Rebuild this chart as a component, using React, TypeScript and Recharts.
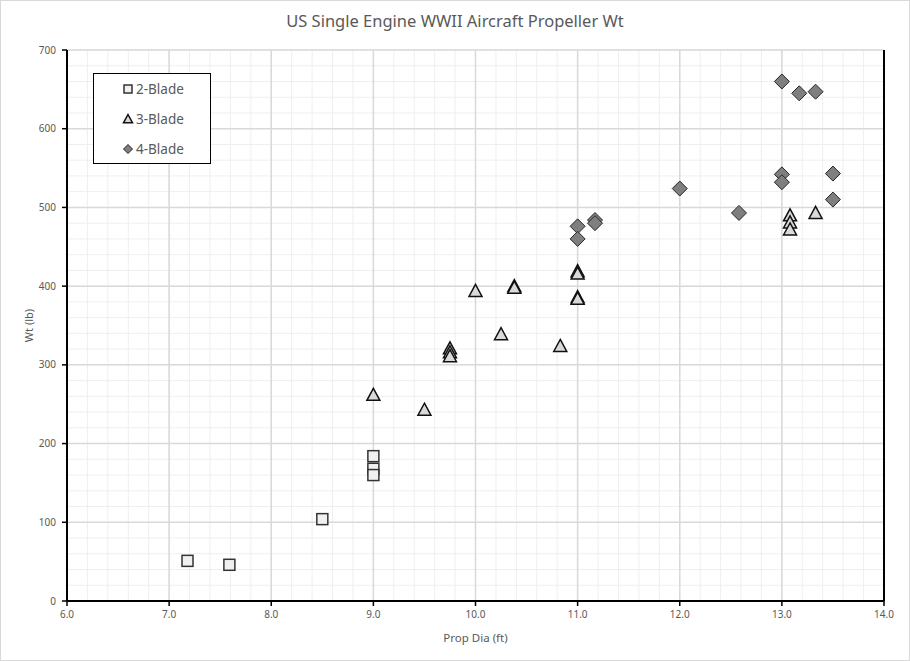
import { ScatterChart, Scatter, XAxis, YAxis, CartesianGrid, Legend, ReferenceLine } from 'recharts';

interface Pt {
    x: number;
    y: number;
}

// prop diameter (ft) vs propeller weight (lb)
const twoBlade: Pt[] = [
    { x: 7.18, y: 51 },
    { x: 7.59, y: 46 },
    { x: 8.5, y: 104 },
    { x: 9.0, y: 184 },
    { x: 9.0, y: 168 },
    { x: 9.0, y: 160 },
];

const threeBlade: Pt[] = [
    { x: 9.0, y: 262 },
    { x: 9.5, y: 243 },
    { x: 9.75, y: 321 },
    { x: 9.75, y: 316 },
    { x: 9.75, y: 311 },
    { x: 10.0, y: 394 },
    { x: 10.25, y: 339 },
    { x: 10.38, y: 400 },
    { x: 10.38, y: 398 },
    { x: 10.83, y: 324 },
    { x: 11.0, y: 419 },
    { x: 11.0, y: 416 },
    { x: 11.0, y: 386 },
    { x: 11.0, y: 384 },
    { x: 13.08, y: 490 },
    { x: 13.08, y: 481 },
    { x: 13.08, y: 472 },
    { x: 13.33, y: 493 },
];

const fourBlade: Pt[] = [
    { x: 11.0, y: 476 },
    { x: 11.0, y: 460 },
    { x: 11.17, y: 484 },
    { x: 11.17, y: 480 },
    { x: 12.0, y: 524 },
    { x: 12.58, y: 493 },
    { x: 13.0, y: 660 },
    { x: 13.17, y: 645 },
    { x: 13.33, y: 647 },
    { x: 13.0, y: 542 },
    { x: 13.0, y: 532 },
    { x: 13.5, y: 543 },
    { x: 13.5, y: 510 },
];

const xTicks = [6, 7, 8, 9, 10, 11, 12, 13, 14];
const yTicks = [0, 100, 200, 300, 400, 500, 600, 700];
// minor grid every 0.2 ft / 20 lb
const xMinor = Array.from({ length: 41 }, (_, i) => 6 + i * 0.2);
const yMinor = Array.from({ length: 36 }, (_, i) => i * 20);

const FONT = '"Noto Sans", Arial, sans-serif';
const GREY_TEXT = '#595959';

const Square = ({ cx, cy, s = 5.5 }: any) => (
    <rect x={cx - s} y={cy - s} width={s * 2} height={s * 2} fill="#f0f0f0" stroke="#333" strokeWidth={1.5} />
);

const Triangle = ({ cx, cy, s = 6.5 }: any) => (
    <polygon
        points={`${cx},${cy - s} ${cx + s},${cy + s * 0.85} ${cx - s},${cy + s * 0.85}`}
        fill="#d9d9d9"
        stroke="#111"
        strokeWidth={1.5}
        strokeLinejoin="miter"
    />
);

const Diamond = ({ cx, cy, s = 7.5 }: any) => (
    <polygon
        points={`${cx},${cy - s} ${cx + s},${cy} ${cx},${cy + s} ${cx - s},${cy}`}
        fill="#7f7f7f"
        stroke="#262626"
        strokeWidth={1}
    />
);

const legendItems = [
    { name: '2-Blade', shape: Square, s: 4 },
    { name: '3-Blade', shape: Triangle, s: 4.5 },
    { name: '4-Blade', shape: Diamond, s: 4.5 },
];

function LegendBox() {
    return (
        <div
            style={{
                width: 118,
                height: 91,
                boxSizing: 'border-box',
                border: '1px solid #000',
                background: '#fff',
                fontFamily: FONT,
                fontSize: 13.5,
                color: GREY_TEXT,
            }}
        >
            {legendItems.map((it) => {
                const Shape = it.shape;
                return (
                    <div key={it.name} style={{ height: 30, display: 'flex', alignItems: 'center' }}>
                        <svg width={12} height={12} style={{ marginLeft: 28 }}>
                            <Shape cx={6} cy={6} s={it.s} />
                        </svg>
                        <span style={{ marginLeft: 2 }}>{it.name}</span>
                    </div>
                );
            })}
        </div>
    );
}

const YTitle = ({ viewBox }: any) => {
    const x = viewBox.x + 1;
    const y = viewBox.y + viewBox.height / 2;
    return (
        <text x={x} y={y} transform={`rotate(-90, ${x}, ${y})`} textAnchor="middle" dominantBaseline="central" fontFamily={FONT} fontSize={11} fill={GREY_TEXT}>
            Wt (lb)
        </text>
    );
};

const XTitle = ({ viewBox }: any) => (
    <text x={viewBox.x + viewBox.width / 2} y={viewBox.y + 36} textAnchor="middle" dominantBaseline="central" fontFamily={FONT} fontSize={11.5} fill={GREY_TEXT}>
        Prop Dia (ft)
    </text>
);

export default function App() {
    const tickStyle = { fontSize: 10, fill: GREY_TEXT, fontFamily: FONT };
    return (
        <div
            style={{
                position: 'absolute',
                left: 0,
                top: 0,
                width: 910,
                height: 661,
                boxSizing: 'border-box',
                border: '1px solid #d9d9d9',
                background: '#fff',
            }}
        >
            <div
                style={{
                    position: 'absolute',
                    left: 0,
                    width: 908,
                    top: 8,
                    textAlign: 'center',
                    fontFamily: FONT,
                    fontSize: 16.5,
                    color: GREY_TEXT,
                }}
            >
                US Single Engine WWII Aircraft Propeller Wt
            </div>
            <ScatterChart width={908} height={659} margin={{ top: 49, right: 25, bottom: 0, left: 26 }}>
                <CartesianGrid xAxisId="minor" yAxisId="minor" stroke="#efefef" strokeWidth={1} />
                <CartesianGrid stroke="#d9d9d9" strokeWidth={1.5} />
                {/* minor axes first so they sit on the plot edge and give inside ticks */}
                <XAxis
                    xAxisId="minor"
                    type="number"
                    dataKey="x"
                    domain={[6, 14]}
                    ticks={xMinor}
                    height={0}
                    mirror
                    axisLine={false}
                    tickSize={4}
                    tickLine={{ stroke: '#000' }}
                    tickFormatter={() => ''}
                    allowDataOverflow
                />
                <YAxis
                    yAxisId="minor"
                    type="number"
                    dataKey="y"
                    domain={[0, 700]}
                    ticks={yMinor}
                    width={0}
                    mirror
                    axisLine={false}
                    tickSize={4}
                    tickLine={{ stroke: '#000' }}
                    tickFormatter={() => ''}
                    allowDataOverflow
                />
                <XAxis
                    type="number"
                    dataKey="x"
                    domain={[6, 14]}
                    ticks={xTicks}
                    height={59}
                    tick={tickStyle}
                    tickFormatter={(v: number) => v.toFixed(1)}
                    tickSize={5}
                    tickMargin={5}
                    axisLine={{ stroke: '#000', strokeWidth: 2 }}
                    tickLine={{ stroke: '#000', strokeWidth: 1.5 }}
                    label={<XTitle />}
                />
                <YAxis
                    type="number"
                    dataKey="y"
                    domain={[0, 700]}
                    ticks={yTicks}
                    width={40}
                    tick={tickStyle}
                    tickSize={5}
                    tickMargin={6}
                    axisLine={{ stroke: '#000', strokeWidth: 2 }}
                    tickLine={{ stroke: '#000', strokeWidth: 1.5 }}
                    label={<YTitle />}
                />
                <ReferenceLine x={14} stroke="#000" strokeWidth={2} />
                <Legend
                    layout="vertical"
                    align="center"
                    verticalAlign="middle"
                    content={<LegendBox />}
                    wrapperStyle={{ position: 'absolute', left: 92, top: 72, width: 118, height: 91 }}
                />
                <Scatter name="2-Blade" data={twoBlade} shape={<Square />} isAnimationActive={false} />
                <Scatter name="3-Blade" data={threeBlade} shape={<Triangle />} isAnimationActive={false} />
                <Scatter name="4-Blade" data={fourBlade} shape={<Diamond />} isAnimationActive={false} />
            </ScatterChart>
        </div>
    );
}
